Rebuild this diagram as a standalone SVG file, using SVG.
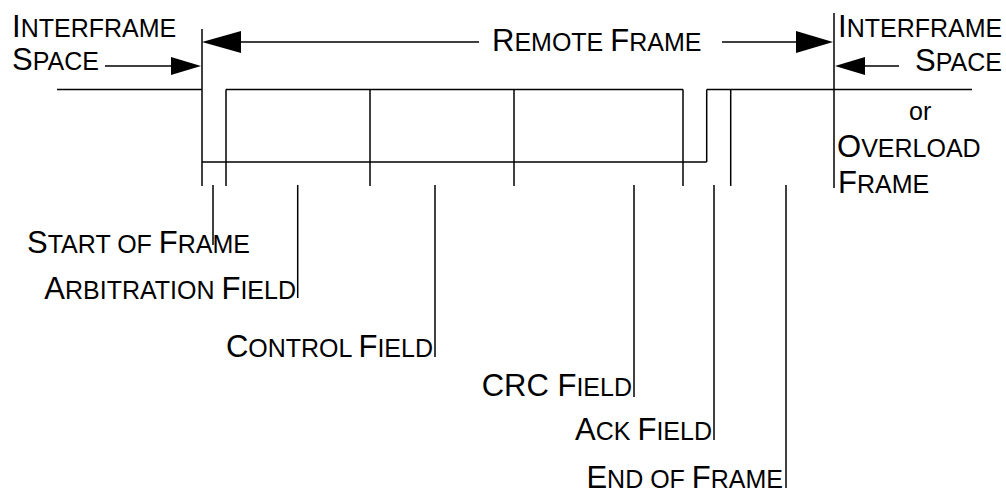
<svg xmlns="http://www.w3.org/2000/svg" width="1006" height="491" viewBox="0 0 1006 491">
<style>
  .ln{stroke:#000;stroke-width:1.5;fill:none}
  .ah{fill:#000;stroke:none}
  text{font-family:"Liberation Sans",Arial,sans-serif;fill:#000}
  .b{font-size:31px}
  .s{font-size:25px}
  .e{text-anchor:end}
</style>
<rect width="1006" height="491" fill="#fff"/>
<g id="connectors">
  <g class="ln">
    <!-- signal waveform -->
    <line x1="57" y1="89.5" x2="202" y2="89.5"/>
    <line x1="226" y1="89.5" x2="683" y2="89.5"/>
    <line x1="706.7" y1="89.5" x2="972" y2="89.5"/>
    <line x1="202" y1="162" x2="706.7" y2="162"/>
    <line x1="202" y1="29" x2="202" y2="186"/>
    <line x1="226" y1="89.5" x2="226" y2="186"/>
    <line x1="370" y1="89.5" x2="370" y2="186"/>
    <line x1="514" y1="89.5" x2="514" y2="186"/>
    <line x1="683" y1="89.5" x2="683" y2="186"/>
    <line x1="706.7" y1="89.5" x2="706.7" y2="162"/>
    <line x1="730.7" y1="89.5" x2="730.7" y2="186"/>
    <line x1="834" y1="13" x2="834" y2="188"/>
    <!-- arrows -->
    <line x1="240" y1="42" x2="479" y2="42"/>
    <line x1="722" y1="42" x2="797" y2="42"/>
    <line x1="105" y1="66" x2="172" y2="66"/>
    <line x1="864" y1="66" x2="899" y2="66"/>
    <!-- label leaders -->
    <line x1="213" y1="185" x2="213" y2="245"/>
    <line x1="297.7" y1="185" x2="297.7" y2="298"/>
    <line x1="435" y1="185" x2="435" y2="357"/>
    <line x1="634" y1="185" x2="634" y2="397"/>
    <line x1="714" y1="185" x2="714" y2="440"/>
    <line x1="786" y1="185" x2="786" y2="488"/>
  </g>
  <g class="ah">
    <polygon points="202,42 241,31 241,53"/>
    <polygon points="833,42 796,31 796,53"/>
    <polygon points="201,66 171,57 171,75"/>
    <polygon points="835,66 865,57 865,75"/>
  </g>
</g>
<g id="interframe-left">
  <text x="12" y="37"><tspan class="b">I</tspan><tspan class="s">NTERFRAME</tspan></text>
  <text x="12" y="70"><tspan class="b">S</tspan><tspan class="s">PACE</tspan></text>
</g>
<g id="remote-frame">
  <text x="492" y="51"><tspan class="b">R</tspan><tspan class="s">EMOTE </tspan><tspan class="b">F</tspan><tspan class="s">RAME</tspan></text>
</g>
<g id="interframe-right">
  <text x="838" y="37"><tspan class="b">I</tspan><tspan class="s">NTERFRAME</tspan></text>
  <text x="1002" y="71" class="e"><tspan class="b">S</tspan><tspan class="s">PACE</tspan></text>
  <text x="909" y="120" class="s">or</text>
  <text x="837" y="157"><tspan class="b">O</tspan><tspan class="s">VERLOAD</tspan></text>
  <text x="838" y="193"><tspan class="b">F</tspan><tspan class="s">RAME</tspan></text>
</g>
<g id="start-of-frame">
  <text x="27" y="253"><tspan class="b">S</tspan><tspan class="s">TART OF </tspan><tspan class="b">F</tspan><tspan class="s">RAME</tspan></text>
</g>
<g id="arbitration-field">
  <text x="296" y="299" class="e"><tspan class="b">A</tspan><tspan class="s">RBITRATION </tspan><tspan class="b">F</tspan><tspan class="s">IELD</tspan></text>
</g>
<g id="control-field">
  <text x="433" y="357" class="e"><tspan class="b">C</tspan><tspan class="s">ONTROL </tspan><tspan class="b">F</tspan><tspan class="s">IELD</tspan></text>
</g>
<g id="crc-field">
  <text x="632" y="396" class="e"><tspan class="b">CRC F</tspan><tspan class="s">IELD</tspan></text>
</g>
<g id="ack-field">
  <text x="712" y="440" class="e"><tspan class="b">A</tspan><tspan class="s">CK </tspan><tspan class="b">F</tspan><tspan class="s">IELD</tspan></text>
</g>
<g id="end-of-frame">
  <text x="783" y="488" class="e"><tspan class="b">E</tspan><tspan class="s">ND OF </tspan><tspan class="b">F</tspan><tspan class="s">RAME</tspan></text>
</g>
</svg>
